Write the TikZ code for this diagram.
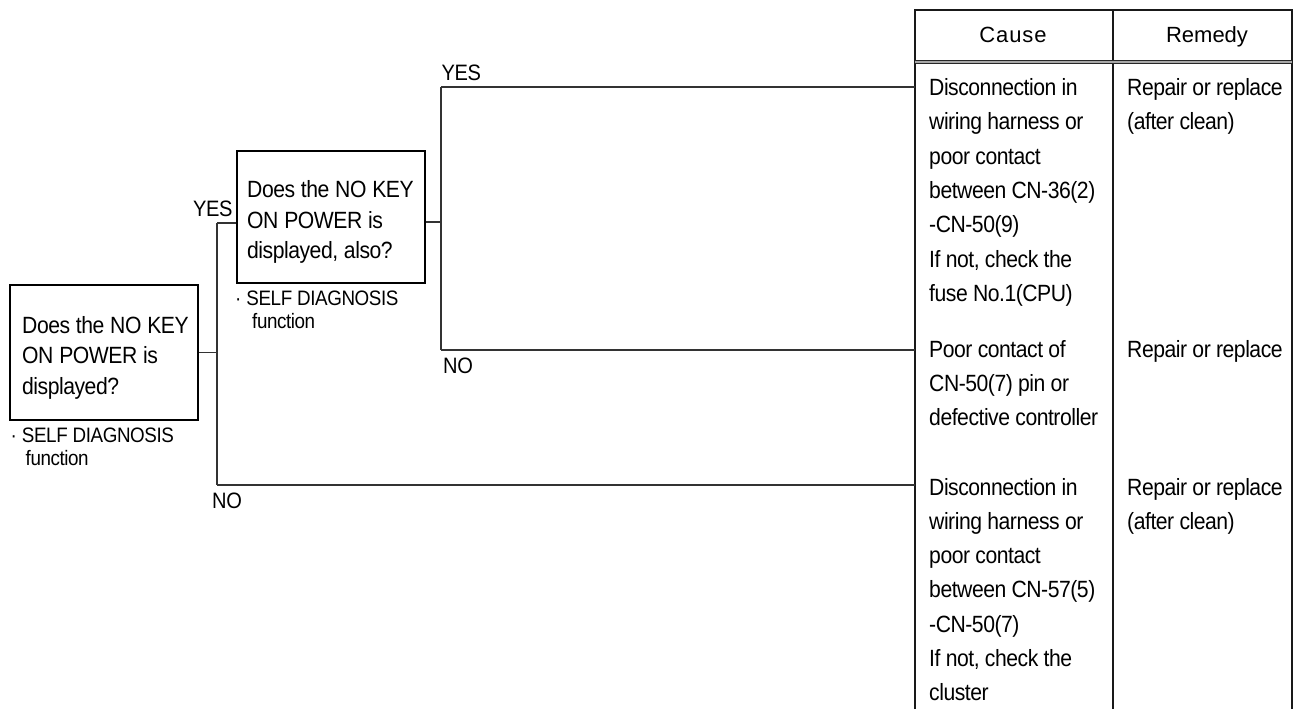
\documentclass[tikz,border=0pt]{standalone}
\usepackage{fontspec}
\setmainfont{Liberation Sans}[FakeStretch=0.9, LetterSpace=-2]
\newfontfamily\headfont{Liberation Sans}
\newcommand\wsp[1]{\spaceskip=#1\relax}
\begin{document}
\begin{tikzpicture}[x=1pt,y=-1pt,
  txt/.style={font=\fontsize{23.5}{34.3}\selectfont, execute at begin node={\wsp{5.3pt}}, inner sep=0pt, anchor=base west, align=left, text width=#1},
  txt/.default=185,
  boxtxt/.style={font=\fontsize{23.5}{30.5}\selectfont, execute at begin node={\wsp{5.8pt}}, inner sep=0pt, anchor=base west, align=left, text width=180},
  small/.style={font=\fontsize{20.9}{23}\selectfont, execute at begin node={\wsp{5pt}}, inner sep=0pt, anchor=base west, align=left, text width=200},
  lbl/.style={font=\fontsize{22.3}{25}\selectfont, inner sep=0pt, anchor=base west},
  head/.style={font=\headfont\fontsize{22}{25}\selectfont, inner sep=0pt, anchor=base},
  qbox/.style={draw=black, line width=1.6pt, minimum width=188, inner sep=0pt},
  conn/.style={draw=black!80, line width=1.1pt},
  tline/.style={draw=black!90, line width=1.8pt},
]
\useasboundingbox (0,0) rectangle (1300,709);

% question boxes
\node[qbox, minimum height=135] (box1) at (104,352.5) {};
\node[boxtxt] (box1t) at (22,333) {Does the NO KEY\\ON POWER is\\displayed?};
\node[small] (diag1) at (10.5,442) {·\ SELF DIAGNOSIS\\\hspace*{15pt}function};

\node[qbox, minimum height=132] (box2) at (331,217) {};
\node[boxtxt] (box2t) at (247,197.5) {Does the NO KEY\\ON POWER is\\displayed, also?};
\node[small] (diag2) at (235,305) {·\ SELF DIAGNOSIS\\\hspace*{17pt}function};

% labels
\node[lbl] (yes1) at (193,216.7) {YES};
\node[lbl] (yes2) at (441.5,81) {YES};
\node[lbl] (no2) at (443,373) {NO};
\node[lbl] (no3) at (212,508) {NO};

% table frame
\coordinate (tTL) at (915,10);
\coordinate (tTR) at (1292,10);
\coordinate (tTM) at (1113,10);
\coordinate (tBL) at (915,709);
\coordinate (tBR) at (1292,709);
\coordinate (tBM) at (1113,709);
\draw[tline] (tBL) -- (tTL) -- (tTR) -- (tBR);
\draw[tline] (tTM) -- (tBM);
\draw[black!85, line width=1pt] (915,60.6) -- (1292,60.6);
\draw[black!85, line width=1pt] (915,63.6) -- (1292,63.6);
\fill[black!35] (915,61.1) rectangle (1292,63.1);

\node[head] (hcause) at (1013,42) {\addfontfeature{LetterSpace=4}Cause};
\node[head] (hremedy) at (1207,42) {Remedy};

% table cells
\node[txt] (cause1) at (929,95.5) {Disconnection in\\wiring harness or\\poor contact\\between CN-36(2)\\-CN-50(9)\\If not, check the\\fuse No.1(CPU)};
\node[txt=170] (rem1) at (1127,95.5) {Repair or replace\\(after clean)};
\node[txt] (cause2) at (929,357) {Poor contact of\\CN-50(7) pin or\\defective controller};
\node[txt=170] (rem2) at (1127,357) {Repair or replace};
\node[txt] (cause3) at (929,495) {Disconnection in\\wiring harness or\\poor contact\\between CN-57(5)\\-CN-50(7)\\If not, check the\\cluster};
\node[txt=170] (rem3) at (1127,495) {Repair or replace\\(after clean)};

% connectors
\coordinate (j1) at (217,352.5);
\coordinate (y1) at (217,223);
\coordinate (n1) at (217,485);
\coordinate (j2) at (441,222);
\coordinate (y2) at (441,87);
\coordinate (n2) at (441,350);
\draw[conn] (box1.east |- j1) -- (j1);
\draw[conn] (y1) -- (n1);
\draw[conn] (y1) -- (y1 -| box2.west);
\draw[conn] (n1) -- (n1 -| tTL);
\draw[conn] (box2.east |- j2) -- (j2);
\draw[conn] (y2) -- (n2);
\draw[conn] (y2) -- (y2 -| tTL);
\draw[conn] (n2) -- (n2 -| tTL);
\end{tikzpicture}
\end{document}
